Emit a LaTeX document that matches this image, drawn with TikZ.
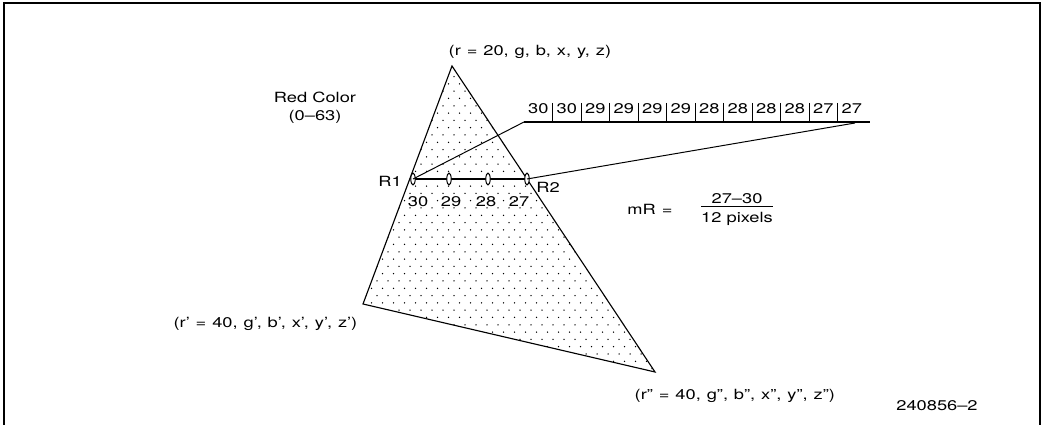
\documentclass[tikz,border=0pt]{standalone}
\usepackage{fontspec}
\setmainfont{TeX Gyre Heros}[FakeStretch=1.3]

\tikzset{
  lbl/.style={inner sep=1pt, font=\fontsize{10}{13}\selectfont},
  coordlbl/.style={lbl, execute at begin node={\spaceskip=0.42em\relax}},
  scan/.style={line width=1.8pt},
  link/.style={line width=0.7pt},
  tickmark/.style={line width=0.7pt, fill=white}
}

\begin{document}
\begin{tikzpicture}[x=0.025cm, y=-0.025cm]

  \useasboundingbox (0,0) rectangle (1042,425);

  % --- Frame ---
  \draw[line width=1pt] (4,425) -- (4,3) -- (1040,3) -- (1040,425);

  % --- Points ---
  \coordinate (T)  at (452,66);
  \coordinate (L)  at (363,304);
  \coordinate (Rb) at (655,372);
  \coordinate (R1pt) at (413,179);
  \coordinate (R2pt) at (527,179);
  \coordinate (Q1) at (449,179);
  \coordinate (Q2) at (488,179);
  \coordinate (S1) at (524,122);
  \coordinate (S2) at (870,122);
  \coordinate (S3) at (855,123);

  % --- Dotted fill ---
  \begin{scope}
    \clip (T) -- (L) -- (Rb) -- cycle;
    \foreach \j in {0,...,43} {
      \pgfmathsetmacro\off{mod(\j,2)*5.5}
      \foreach \i in {0,...,28} {
        \fill (355+\i*11+\off, 62+\j*7.3) circle (0.75);
      }
    }
  \end{scope}

  % --- Triangle ---
  \draw[line width=0.8pt] (T) -- (L) -- (Rb) -- cycle;

  % --- Scan line in triangle ---
  \draw[scan] (R1pt) -- (R2pt);
  \foreach \p in {R1pt,Q1,Q2,R2pt}
    \draw[tickmark] (\p) ellipse (2.2 and 6);

  % --- Magnified scan line ---
  \draw[scan] (S1) -- (S2);
  \foreach \k in {1,...,11}
    \draw[line width=0.6pt] (524+\k*28.5,103) -- (524+\k*28.5,122);
  \foreach \v [count=\k from 0] in {30,30,29,29,29,29,28,28,28,28,27,27}
    \node[lbl] (cell\k) at (524+\k*28.5+14.25,109) {\v};

  % --- Links ---
  \draw[link] (R1pt) -- (S1);
  \draw[link] (R2pt) -- (S3);

  % --- Labels ---
  \node[coordlbl, anchor=west] (top) at (447,52) {(r = 20, g, b, x, y, z)};
  \node[lbl, align=center] (red) at (315,108) {Red Color\\(0--63)};
  \node[lbl] (r1)    at (390,181) {R1};
  \node[lbl] (r2)    at (548,187) {R2};
  \node[lbl] (v30)   at (418,202) {30};
  \node[lbl] (v29)   at (451,202) {29};
  \node[lbl] (v28)   at (486,202) {28};
  \node[lbl] (v27)   at (519,202) {27};
  \node[coordlbl] (mr)    at (650,209) {mR =};
  \node[lbl] (frac)  at (737,209)
    {\begin{tabular}{@{}c@{}}27--30\\[-2pt]\hline\rule{0pt}{11pt}12 pixels\end{tabular}};
  \node[coordlbl, anchor=east] (left) at (359,324) {(r' = 40, g', b', x', y', z')};
  \node[coordlbl, anchor=west] (right) at (633,396) {(r'' = 40, g'', b'', x'', y'', z'')};
  \node[lbl] (fig)   at (937,406) {240856--2};

\end{tikzpicture}
\end{document}
